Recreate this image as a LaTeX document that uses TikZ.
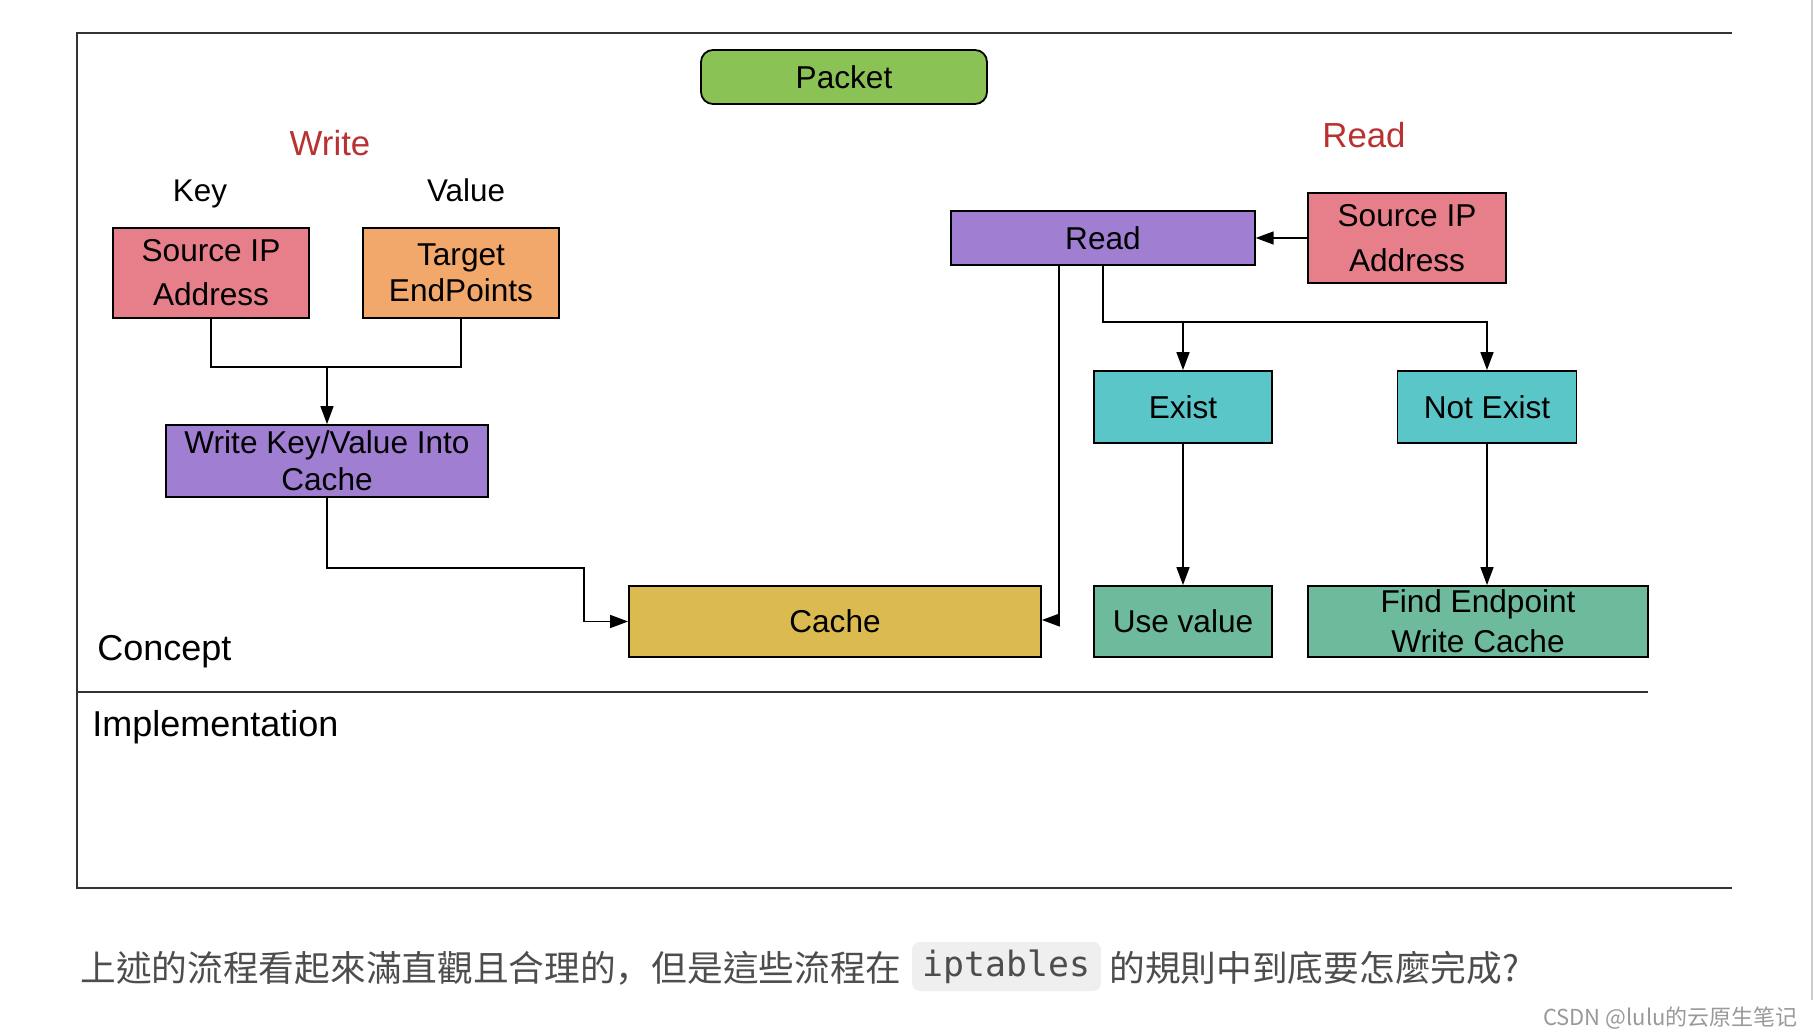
\documentclass[tikz,border=0pt]{standalone}
\usepackage{fontspec}
\setmainfont{Liberation Sans}
\newfontfamily\cjktc{Noto Sans CJK TC}
\newfontfamily\cjksc{Noto Sans CJK SC}
\newfontfamily\codefont{DejaVu Sans Mono}
\usetikzlibrary{arrows.meta}
\definecolor{cpacket}{HTML}{8BC255}
\definecolor{credtxt}{HTML}{B83232}
\definecolor{cpink}{HTML}{E77F8A}
\definecolor{corange}{HTML}{F2A86A}
\definecolor{cpurple}{HTML}{A07FD3}
\definecolor{cyellow}{HTML}{DBBA50}
\definecolor{ccyan}{HTML}{5BC6C8}
\definecolor{cgreen}{HTML}{6DBA9C}
\definecolor{cframe}{HTML}{333333}
\definecolor{cgraytxt}{HTML}{4D4D4D}
\definecolor{ccode}{HTML}{EFEFEF}
\begin{document}
\begin{tikzpicture}[x=0.5pt,y=-0.5pt,
  box/.style={draw=black,line width=0.9pt,inner sep=0pt,align=center,
    font=\fontsize{15.8}{18.5}\selectfont},
  arr/.style={-{Triangle[length=9pt,width=6.5pt]},line width=0.75pt},
  conn/.style={line width=0.75pt},
  title/.style={text=credtxt,font=\fontsize{17.4}{20}\selectfont,inner sep=0pt,anchor=base},
  lbl/.style={font=\fontsize{15.7}{18}\selectfont,inner sep=0pt,anchor=base},
  big/.style={font=\fontsize{18}{21}\selectfont,inner sep=0pt,anchor=base west},
  framel/.style={draw=cframe,line width=0.75pt}]
\useasboundingbox (0,0) rectangle (1814,1036);
% frame
\draw[framel] (1732,33) -- (77,33) -- (77,888) -- (1732,888);
\draw[draw=cframe,line width=1.1pt] (77,692) -- (1648,692);
\draw[draw=black!20,line width=1pt] (1812,0) -- (1812,1000);
% labels
\node[title] (wlab) at (330,156) {Write};
\node[title] (rlab) at (1364,148) {Read};
\node[lbl] (key) at (200,202) {Key};
\node[lbl] (val) at (466,202) {Value};
\node[big] (concept) at (97,661) {Concept};
\node[big] (impl) at (92,736) {Implementation};
% boxes
\node[box,fill=cpacket,rounded corners=6pt,minimum width=143pt,minimum height=27pt] (packet) at (844,77) {Packet};
\node[box,fill=cpink,minimum width=98pt,minimum height=45pt,font=\fontsize{15.8}{22}\selectfont] (srcw) at (211,273) {Source IP\\Address};
\node[box,fill=corange,minimum width=98pt,minimum height=45pt,font=\fontsize{15.8}{18}\selectfont] (tgt) at (461,273) {Target\\EndPoints};
\node[box,fill=cpurple,minimum width=161pt,minimum height=36pt] (wkv) at (327,461) {Write Key/Value Into\\Cache};
\node[box,fill=cyellow,minimum width=206pt,minimum height=35.5pt] (cache) at (835,621.5) {Cache};
\node[box,fill=cpurple,minimum width=151.75pt,minimum height=27pt] (read) at (1103,238) {Read};
\node[box,fill=cpink,minimum width=99pt,minimum height=45pt,font=\fontsize{15.8}{22.5}\selectfont] (srcr) at (1407,238) {Source IP\\Address};
\node[box,fill=ccyan,minimum width=89pt,minimum height=36pt] (exist) at (1183,407) {Exist};
\node[box,fill=ccyan,minimum width=89.5pt,minimum height=36pt] (notexist) at (1487,407) {Not Exist};
\node[box,fill=cgreen,minimum width=89pt,minimum height=35.5pt] (use) at (1183,621.5) {Use value};
\node[box,fill=cgreen,minimum width=170pt,minimum height=35.5pt,font=\fontsize{15.8}{19}\selectfont] (find) at (1478,621.5) {\raisebox{-2pt}{Find Endpoint}\\\raisebox{-3pt}{Write Cache}};
% connectors
\coordinate (j) at (327,367);
\draw[conn] (srcw.south) |- (j) -| (tgt.south);
\draw[arr] (j) -- (wkv.north);
\coordinate (c1) at (584,568);
\draw[arr] (wkv.south) |- (c1) |- (cache.west);
\draw[arr] (srcr.west) -- (read.east);
\coordinate (rb) at (1103,322);
\draw[arr] (read.south) -- (rb) -| (exist.north);
\draw[arr] (rb) -| (notexist.north);
\coordinate (rl) at (1059,620);
\draw[arr] (read.south -| rl) -- (rl) -- (cache.east |- rl);
\draw[arr] (exist.south) -- (use.north);
\draw[arr] (notexist.south) -- (notexist |- find.north);
% bottom text
\node[anchor=west,inner sep=0pt,text=cgraytxt,font=\cjktc\fontsize{17.85}{20}\selectfont] (t1) at (80,968) {上述的流程看起來滿直觀且合理的{\cjksc ，}但是這些流程在};
\node[fill=ccode,rounded corners=4pt,minimum width=94.5pt,minimum height=24.5pt,inner sep=0pt,text=cgraytxt,font=\codefont\fontsize{17.4}{20}\selectfont] (code) at (1006.5,966.5) {iptables};
\node[anchor=west,inner sep=0pt,text=cgraytxt,font=\cjktc\fontsize{17.85}{20}\selectfont] (t2) at (1109,968) {的規則中到底要怎麼完成?};
\node[anchor=east,inner sep=0pt,text=black!40,font=\cjksc\fontsize{11}{13}\selectfont] (wm) at (1798,1018) {CSDN @lulu的云原生笔记};
\end{tikzpicture}
\end{document}
